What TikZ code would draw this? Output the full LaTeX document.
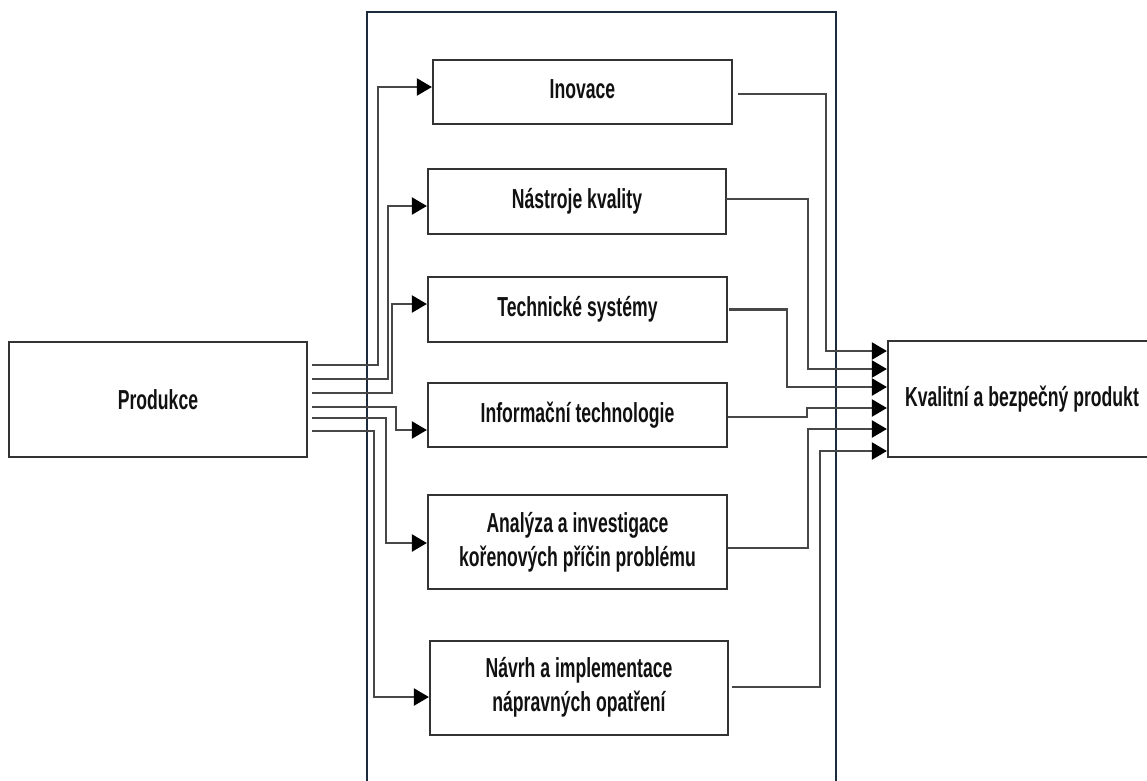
\documentclass[tikz,border=0pt]{standalone}
\usepackage{fontspec}
\setmainfont{Liberation Sans}[FakeStretch=0.64]
\usetikzlibrary{arrows.meta}
\definecolor{frameblue}{HTML}{1B2B3B}
\definecolor{boxgray}{HTML}{333333}
\definecolor{linegray}{HTML}{474747}
\definecolor{txt}{HTML}{111111}
\begin{document}
\begin{tikzpicture}[x=1pt,y=-1pt,
  box/.style={draw=boxgray,line width=2.2pt,fill=white,inner sep=0pt,
    text=txt,align=center,font=\fontsize{27.5}{34}\selectfont\bfseries},
  conn/.style={draw=linegray,line width=2.2pt},
  arr/.style={conn,-{Triangle[length=15pt,width=17pt,color=black]}}]
\useasboundingbox (0,0) rectangle (1147,780);
\clip (0,0) rectangle (1147,780);
\fill[white] (0,0) rectangle (1147,780);

% enclosing frame
\draw[frameblue,line width=2.2pt] (367,12) rectangle (836,800);

% boxes
\node[box,minimum width=298pt,minimum height=115pt] (prod) at (158,399.5) {\raisebox{-4pt}{Produkce}};
\node[box,minimum width=299pt,minimum height=64pt] (ino) at (582.5,92) {\raisebox{5pt}{Inovace}};
\node[box,minimum width=298pt,minimum height=65pt] (nas) at (577,201.5) {\raisebox{4pt}{Nástroje kvality}};
\node[box,minimum width=299pt,minimum height=65pt] (tech) at (577.5,309.5) {\raisebox{3pt}{Technické systémy}};
\node[box,minimum width=299pt,minimum height=64pt] (inf) at (577.5,415) {\raisebox{1pt}{Informační technologie}};
\node[box,minimum width=299pt,minimum height=94pt] (ana) at (577.5,542) {Analýza a investigace\\kořenových příčin problému};
\node[box,minimum width=298pt,minimum height=94pt] (nav) at (579,688) {\raisebox{8pt}{\begin{tabular}{@{}c@{}}Návrh a implementace\\nápravných opatření\end{tabular}}};
\node[box,minimum width=262pt,minimum height=116pt] (kval) at (1019,399) {\raisebox{-3pt}{\hspace*{6pt}Kvalitní a bezpečný produkt}};

% outputs of Produkce
\coordinate (p1) at (312,365);
\coordinate (p2) at (312,379);
\coordinate (p3) at (312,393);
\coordinate (p4) at (312,407);
\coordinate (p5) at (312,418);
\coordinate (p6) at (312,431);

\draw[arr] (p1) -| (378,87) -- ([yshift=5pt]ino.west);
\draw[arr] (p2) -| (388,206) -- ([yshift=-4.5pt]nas.west);
\draw[arr] (p3) -| (392,304) -- ([yshift=5.5pt]tech.west);
\draw[arr] (p4) -| (396,430) -- ([yshift=-15pt]inf.west);
\draw[arr] (p5) -| (386,543) -- ([yshift=-1pt]ana.west);
\draw[arr] (p6) -| (374,697) -- ([yshift=-9pt]nav.west);

% inputs of the product
\draw[arr] ([xshift=5pt,yshift=-2pt]ino.east) -| (826,351) -- ([yshift=48pt]kval.west);
\draw[arr] ([xshift=-1pt,yshift=2.5pt]nas.east) -| (808,369) -- ([yshift=30pt]kval.west);
\draw[arr] ([xshift=1pt]tech.east) -| (787,387) -- ([yshift=12pt]kval.west);
\draw[arr] ([yshift=-2pt]inf.east) -| (807,408) -- ([yshift=-9pt]kval.west);
\draw[arr] ([yshift=-6pt]ana.east) -| (808,429) -- ([yshift=-30pt]kval.west);
\draw[arr] ([xshift=3pt,yshift=1pt]nav.east) -| (820,451) -- ([yshift=-52pt]kval.west);
\end{tikzpicture}
\end{document}
